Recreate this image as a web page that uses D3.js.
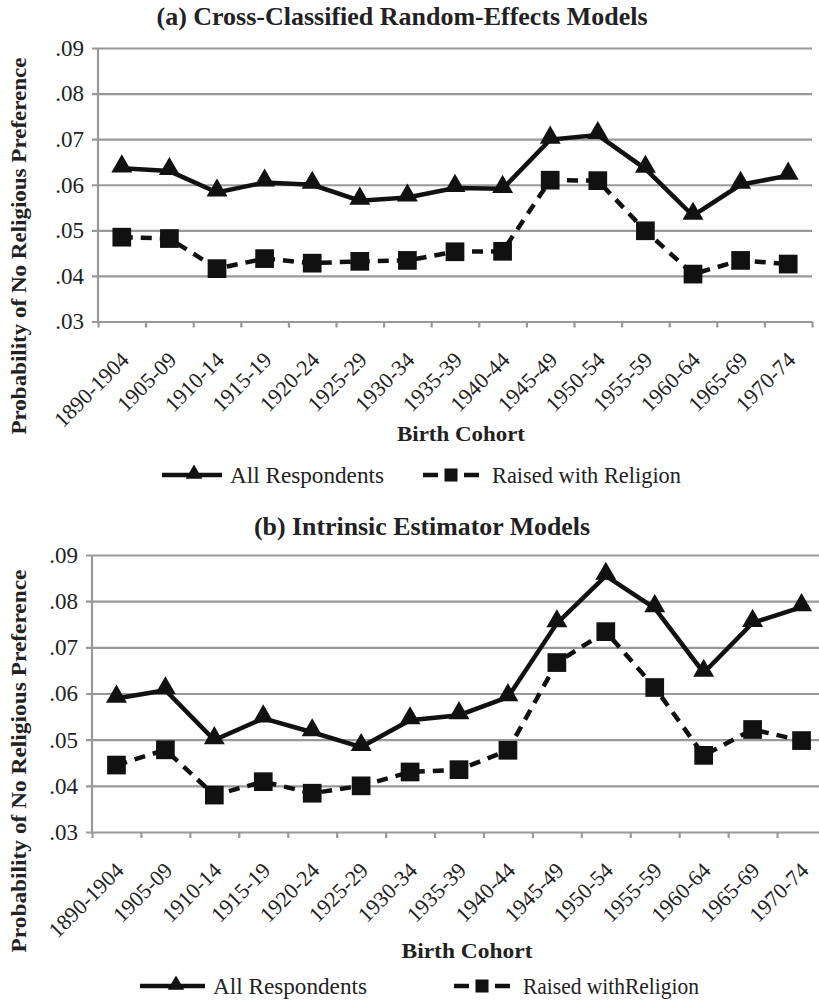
<!DOCTYPE html>
<html>
<head>
<meta charset="utf-8">
<script src="https://cdn.jsdelivr.net/npm/d3@7"></script>
<style>
body { margin: 0; background: #fff; }
text { font-family: "Liberation Serif", "Times New Roman", serif; fill: #222; }
</style>
</head>
<body>
<script>
// birth cohorts along the x axis
const cohorts = ["1890-1904", "1905-09", "1910-14", "1915-19", "1920-24", "1925-29", "1930-34",
    "1935-39", "1940-44", "1945-49", "1950-54", "1955-59", "1960-64", "1965-69", "1970-74"];
const yTicks = [0.03, 0.04, 0.05, 0.06, 0.07, 0.08, 0.09];

// (a) cross-classified random-effects models
const ccreAll = [0.0636, 0.0630, 0.0583, 0.0605, 0.0600, 0.0565, 0.0572, 0.0593, 0.0591,
    0.0699, 0.0709, 0.0635, 0.0532, 0.0600, 0.0620];
const ccreRaised = [0.0485, 0.0482, 0.0416, 0.0438, 0.0428, 0.0432, 0.0434, 0.0453, 0.0454,
    0.0610, 0.0609, 0.0499, 0.0404, 0.0434, 0.0426];

// (b) intrinsic estimator models
const ieAll = [0.0589, 0.0607, 0.0499, 0.0546, 0.0516, 0.0484, 0.0542, 0.0553, 0.0592,
    0.0752, 0.0855, 0.0785, 0.0645, 0.0753, 0.0787];
const ieRaised = [0.0445, 0.0478, 0.0380, 0.0409, 0.0384, 0.0400, 0.0430, 0.0435, 0.0477,
    0.0667, 0.0734, 0.0613, 0.0466, 0.0522, 0.0498];

const titles = ["(a) Cross-Classified Random-Effects Models", "(b) Intrinsic Estimator Models"];
const legendA = ["All Respondents", "Raised with Religion"];
const legendB = ["All Respondents", "Raised withReligion"];

const W = 819, H = 1002;
const svg = d3.select("body").append("svg")
    .attr("width", W)
    .attr("height", H);

//layout of each panel
const panelA = {
    title: titles[0], titleX: 402, titleY: 25, titleLen: 491,
    x0: 98, x1: 812, yTop: 48, yBot: 321.5,
    ylX: 26, ylY: 246, ylLen: 377,
    bcX: 461, bcY: 441, bcLen: 128,
    legY: 475,
    leg1: [162, 222, 194, 230, 154],
    leg2: [423, 479, 451, 492, 189]
};
const panelB = {
    title: titles[1], titleX: 422, titleY: 535, titleLen: 336,
    x0: 92, x1: 826, yTop: 555, yBot: 832,
    ylX: 26, ylY: 761, ylLen: 383,
    bcX: 467, bcY: 958, bcLen: 131,
    legY: 986,
    leg1: [140, 205, 176, 213, 154],
    leg2: [454, 510, 482, 523, 176]
};

const grey = "#999";
const triangle = d3.symbol(d3.symbolTriangle, 190);
const square = d3.symbol(d3.symbolSquare, 350);
const legTriangle = d3.symbol(d3.symbolTriangle, 120);
const legSquare = d3.symbol(d3.symbolSquare, 170);

drawPanel(panelA, ccreAll, ccreRaised, legendA);
drawPanel(panelB, ieAll, ieRaised, legendB);

function drawPanel(p, allVals, raisedVals, legendLabels) {
    let x = d3.scaleBand().domain(cohorts).range([p.x0, p.x1]);
    let y = d3.scaleLinear().domain([0.03, 0.09]).range([p.yBot, p.yTop]);
    let g = svg.append("g");

    //title
    g.append("text")
        .attr("x", p.titleX)
        .attr("y", p.titleY)
        .attr("text-anchor", "middle")
        .attr("font-size", 25)
        .attr("font-weight", "bold")
        .attr("textLength", p.titleLen)
        .attr("lengthAdjust", "spacingAndGlyphs")
        .text(p.title);

    //gridlines and y labels
    g.append("g")
        .attr("transform", `translate(${p.x0},0)`)
        .call(d3.axisLeft(y).tickValues(yTicks)
            .tickSize(-(p.x1 - p.x0))
            .tickPadding(14)
            .tickFormat(d => d3.format(".2f")(d).slice(1)))
        .call(a => a.select(".domain").remove())
        .call(a => a.selectAll("line").attr("x1", -6).attr("stroke", grey).attr("stroke-width", 2.2))
        .call(a => a.selectAll("text").attr("font-size", 23).attr("fill", "#222"));

    //vertical axis line
    g.append("line")
        .attr("x1", p.x0).attr("x2", p.x0)
        .attr("y1", p.yTop).attr("y2", p.yBot)
        .attr("stroke", grey).attr("stroke-width", 2.2);

    //tick marks at the category edges
    let edge = d3.scaleLinear().domain([0, cohorts.length]).range([p.x0, p.x1]);
    g.append("g")
        .attr("transform", `translate(0,${p.yBot})`)
        .call(d3.axisBottom(edge).tickValues(d3.range(cohorts.length + 1)).tickSize(6).tickFormat(""))
        .call(a => a.select(".domain").remove())
        .call(a => a.selectAll("line").attr("stroke", grey).attr("stroke-width", 2.2));

    //rotated cohort labels
    g.append("g")
        .attr("transform", `translate(0,${p.yBot})`)
        .call(d3.axisBottom(x).tickSize(0))
        .call(a => a.select(".domain").remove())
        .selectAll("text")
        .attr("text-anchor", "end")
        .attr("font-size", 22)
        .attr("fill", "#222")
        .attr("x", -22)
        .attr("y", 34)
        .attr("dy", null)
        .attr("transform", "rotate(-45)");

    //axis titles
    g.append("text")
        .attr("transform", `translate(${p.ylX},${p.ylY}) rotate(-90)`)
        .attr("text-anchor", "middle")
        .attr("font-size", 21)
        .attr("font-weight", "bold")
        .attr("textLength", p.ylLen)
        .attr("lengthAdjust", "spacingAndGlyphs")
        .text("Probability of No Religious Preference");

    g.append("text")
        .attr("x", p.bcX)
        .attr("y", p.bcY)
        .attr("text-anchor", "middle")
        .attr("font-size", 22)
        .attr("font-weight", "bold")
        .attr("textLength", p.bcLen)
        .attr("lengthAdjust", "spacingAndGlyphs")
        .text("Birth Cohort");

    //series lines
    let line = d3.line()
        .x((d, i) => x(cohorts[i]) + x.bandwidth() / 2)
        .y(d => y(d));

    g.append("path")
        .datum(raisedVals)
        .attr("d", line)
        .attr("fill", "none")
        .attr("stroke", "#111")
        .attr("stroke-width", 4.5)
        .attr("stroke-dasharray", "11,8");

    g.append("path")
        .datum(allVals)
        .attr("d", line)
        .attr("fill", "none")
        .attr("stroke", "#111")
        .attr("stroke-width", 4.5);

    g.selectAll(".sq")
        .data(raisedVals)
        .enter()
        .append("path")
        .attr("class", "sq")
        .attr("d", square)
        .attr("fill", "#111")
        .attr("transform", (d, i) => `translate(${x(cohorts[i]) + x.bandwidth() / 2},${y(d)})`);

    g.selectAll(".tri")
        .data(allVals)
        .enter()
        .append("path")
        .attr("class", "tri")
        .attr("d", triangle)
        .attr("fill", "#111")
        .attr("transform", (d, i) => `translate(${x(cohorts[i]) + x.bandwidth() / 2},${y(d) - 2})`);

    //legend
    let l1 = p.leg1, l2 = p.leg2;
    g.append("line")
        .attr("x1", l1[0]).attr("x2", l1[1])
        .attr("y1", p.legY).attr("y2", p.legY)
        .attr("stroke", "#111").attr("stroke-width", 4.5);
    g.append("path")
        .attr("d", legTriangle)
        .attr("fill", "#111")
        .attr("transform", `translate(${l1[2]},${p.legY - 1})`);
    g.append("text")
        .attr("x", l1[3])
        .attr("y", p.legY + 8)
        .attr("font-size", 23)
        .attr("textLength", l1[4])
        .attr("lengthAdjust", "spacingAndGlyphs")
        .text(legendLabels[0]);

    g.append("line")
        .attr("x1", l2[0]).attr("x2", l2[1])
        .attr("y1", p.legY).attr("y2", p.legY)
        .attr("stroke", "#111").attr("stroke-width", 4.5)
        .attr("stroke-dasharray", "15,26,20");
    g.append("path")
        .attr("d", legSquare)
        .attr("fill", "#111")
        .attr("transform", `translate(${l2[2]},${p.legY})`);
    g.append("text")
        .attr("x", l2[3])
        .attr("y", p.legY + 8)
        .attr("font-size", 23)
        .attr("textLength", l2[4])
        .attr("lengthAdjust", "spacingAndGlyphs")
        .text(legendLabels[1]);
}
</script>
</body>
</html>
